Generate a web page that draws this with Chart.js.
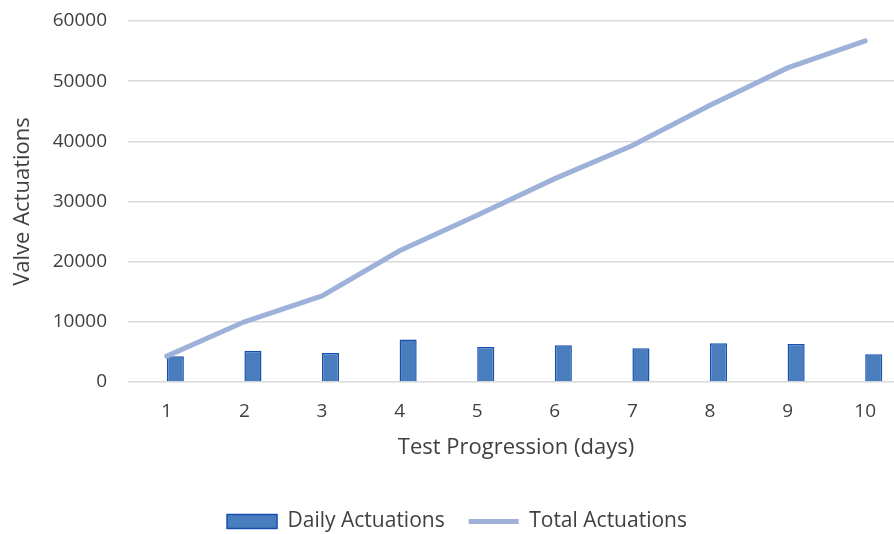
<!DOCTYPE html>
<html>
<head>
<meta charset="utf-8">
<script src="https://cdn.jsdelivr.net/npm/chart.js@4/dist/chart.umd.min.js"></script>
<style>
html,body{margin:0;padding:0;background:#fff;overflow:hidden;width:894px;height:534px;}
#wrap{position:absolute;left:0;top:0;width:904px;height:534px;}
</style>
</head>
<body>
<div id="wrap"><canvas id="c" width="904" height="534"></canvas></div>
<script>
const categories = ['1','2','3','4','5','6','7','8','9','10'];
const dailyActuations = [4300, 5200, 4800, 7050, 5800, 6100, 5600, 6450, 6300, 4600];
const totalActuations = [4300, 10000, 14300, 21800, 27700, 33800, 39300, 46000, 52200, 56700];
const yTicks = [0, 10000, 20000, 30000, 40000, 50000, 60000];

const FONT = "'Open Sans', 'Liberation Sans', sans-serif";
const TXT = '#404040';

new Chart(document.getElementById('c'), {
  data: {
    labels: categories,
    datasets: [
      {
        type: 'line',
        label: 'Total Actuations',
        data: totalActuations,
        borderColor: '#9db1d9',
        backgroundColor: '#9db1d9',
        borderWidth: 5,
        borderCapStyle: 'round',
        pointRadius: 0,
        tension: 0,
        order: 0,
        pointStyle: 'line'
      },
      {
        type: 'bar',
        label: '_spacer',
        data: categories.map(() => null),
        order: 1
      },
      {
        type: 'bar',
        label: 'Daily Actuations',
        data: dailyActuations,
        backgroundColor: '#4a7dbd',
        borderColor: '#1550b0',
        borderWidth: 1.5,
        order: 2,
        pointStyle: 'rect'
      }
    ]
  },
  options: {
    responsive: false,
    animation: false,
    layout: { padding: { top: 21, left: 10, right: 0, bottom: -8 } },
    datasets: { bar: { categoryPercentage: 0.44, barPercentage: 1.0 } },
    scales: {
      x: {
        offset: true,
        grid: { display: false, drawTicks: false },
        border: { display: false },
        ticks: { color: TXT, font: { family: FONT, size: 19 }, padding: 18 },
        title: { display: true, text: 'Test Progression (days)', color: TXT, font: { family: FONT, size: 22 }, padding: { top: 10, bottom: 26 } },
        afterFit: (s) => { s.height = 105; }
      },
      y: {
        min: 0, max: 60000,
        afterBuildTicks: (axis) => { axis.ticks = yTicks.map(v => ({ value: v })); },
        grid: { color: '#d9d9d9', lineWidth: 1.5, drawTicks: false },
        border: { display: false },
        ticks: { color: TXT, font: { family: FONT, size: 19 }, padding: 21, callback: (v) => String(v) },
        title: { display: true, text: 'Valve Actuations', color: TXT, font: { family: FONT, size: 22 }, padding: { top: 0, bottom: 0 } },
        afterFit: (s) => { s.width = 118; s.paddingTop = 0; s.paddingBottom = 0; }
      }
    },
    plugins: {
      legend: {
        position: 'bottom',
        reverse: true,
        labels: {
          color: TXT,
          font: { family: FONT, size: 21 },
          usePointStyle: true,
          pointStyleWidth: 50,
          boxHeight: 14,
          padding: 24,
          filter: (item) => item.text !== '_spacer'
        }
      },
      tooltip: { enabled: false }
    }
  }
});
</script>
</body>
</html>
